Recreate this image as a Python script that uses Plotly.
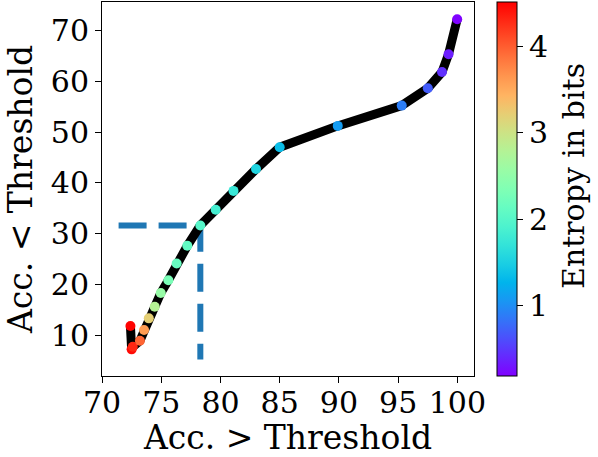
import numpy as np
import plotly.graph_objects as go

acc_above = [72.4, 72.5, 72.6, 73.2, 73.55, 73.95, 74.45, 74.96, 75.6, 76.3, 77.2,
             78.3, 79.6, 81.1, 83.0, 85.0, 89.9, 95.3, 97.5, 98.7, 99.25, 99.98]
acc_below = [11.8, 7.2, 7.7, 8.9, 11.0, 13.3, 15.6, 18.3, 20.8, 24.1, 27.6,
             31.6, 34.7, 38.4, 42.7, 47.0, 51.2, 55.2, 58.6, 61.8, 65.3, 72.2]
entropy = [4.5, 4.45, 4.3, 3.95, 3.6, 3.2, 2.8, 2.55, 2.3, 2.15, 2.1,
           2.0, 1.85, 1.75, 1.55, 1.35, 1.1, 0.9, 0.7, 0.45, 0.35, 0.2]

dash_x = [71.4, 78.3, 78.3]
dash_y = [31.6, 31.6, 5.2]

x_ticks = [70, 75, 80, 85, 90, 95, 100]
y_ticks = [10, 20, 30, 40, 50, 60, 70]
cb_ticks = [1, 2, 3, 4]

# matplotlib 'rainbow' colormap
def rainbow(t):
    r = min(1.0, abs(2 * t - 0.5))
    g = np.sin(np.pi * t)
    b = np.cos(np.pi * t / 2)
    return "rgb(%d,%d,%d)" % (round(r * 255), round(g * 255), round(max(b, 0) * 255))

cscale = [[t, rainbow(t)] for t in np.linspace(0, 1, 21)]

FONT = "DejaVu Serif"
FS = 30
FT = 33

fig = go.Figure()
fig.add_trace(go.Scatter(
    x=dash_x, y=dash_y, mode="lines",
    line=dict(color="#1f77b4", width=6, dash="28px,12px"),
    showlegend=False, hoverinfo="skip"))
fig.add_trace(go.Scatter(
    x=acc_above, y=acc_below, mode="lines+markers",
    line=dict(color="black", width=9),
    marker=dict(size=10, color=entropy, colorscale=cscale, cmin=0.19, cmax=4.51,
                line=dict(width=0),
                colorbar=dict(
                    x=(497 - 102) / 372, xanchor="left", xpad=0, ypad=0,
                    y=0.5, yanchor="middle",
                    len=1.0, lenmode="fraction", thickness=20,
                    outlinecolor="black", outlinewidth=1,
                    tickvals=cb_ticks, ticks="outside", ticklen=6, tickcolor="black",
                    tickfont=dict(family=FONT, size=FS, color="black"),
                )),
    showlegend=False))

fig.add_annotation(
    text="Entropy in bits", textangle=-90, xref="paper", yref="paper",
    x=(573 - 102) / 372, y=(376 - 176) / 374, xanchor="center", yanchor="middle",
    showarrow=False, font=dict(family=FONT, size=FS, color="black"))

fig.update_layout(
    width=598, height=457,
    margin=dict(l=102, r=124, t=2, b=81, autoexpand=False),
    plot_bgcolor="white", paper_bgcolor="white",
    font=dict(family=FONT, size=FS, color="black"),
)
fig.update_xaxes(
    range=[70, 101.4], tickvals=x_ticks, ticks="outside", ticklen=6, tickcolor="black",
    ticklabelstandoff=-6,
    showline=True, linecolor="black", linewidth=1, mirror=True, showgrid=False,
    zeroline=False, automargin=False, tickfont=dict(family=FONT, size=FS),
    title=dict(text="Acc. > Threshold", standoff=10, font=dict(family=FONT, size=FT)))
fig.update_yaxes(
    range=[1.95, 75.6], tickvals=y_ticks, ticks="outside", ticklen=6, tickcolor="black",
    showline=True, linecolor="black", linewidth=1, mirror=True, showgrid=False,
    zeroline=False, automargin=False, tickfont=dict(family=FONT, size=FS),
    title=dict(text="Acc. < Threshold", standoff=8, font=dict(family=FONT, size=FT)))

fig.write_html("out.html", config={"displayModeBar": False},
               post_script="document.body.style.margin='0px';")
